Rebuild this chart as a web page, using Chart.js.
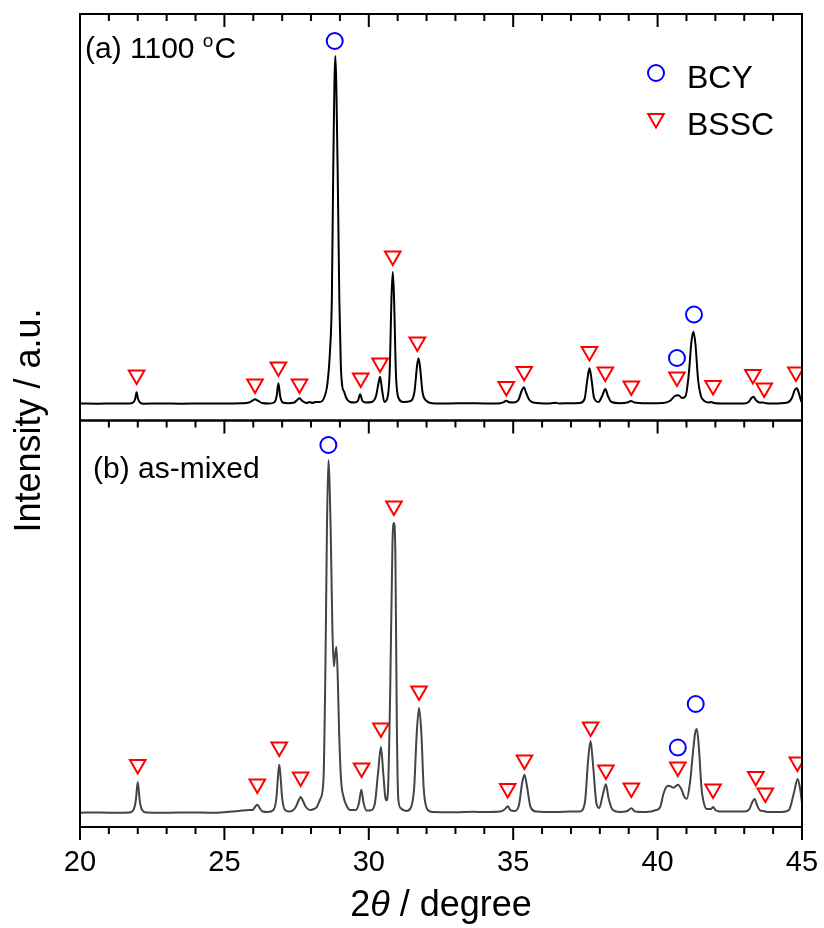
<!DOCTYPE html>
<html>
<head>
<meta charset="utf-8">
<script src="https://cdn.jsdelivr.net/npm/chart.js@4.4.1/dist/chart.umd.min.js"></script>
<style>
  html, body { margin: 0; padding: 0; background: #fff; }
  canvas { display: block; }
</style>
</head>
<body>
<canvas id="xrd" width="824" height="928"></canvas>
<script>
// (a) 1100 oC pattern
const twoThetaA = [
  20.00, 20.60, 21.20, 21.70, 21.84, 21.91, 21.96, 22.01, 22.08, 22.20, 22.80, 23.50, 24.30, 25.00,
  25.60, 25.85, 25.98, 26.06, 26.15, 26.30, 26.55, 26.72, 26.81, 26.87, 26.93, 27.02, 27.20,
  27.42, 27.52, 27.60, 27.70, 27.85, 27.95, 28.05, 28.15, 28.30, 28.45, 28.57, 28.66, 28.72,
  28.77, 28.84, 28.92, 28.98, 29.03, 29.08, 29.15, 29.22, 29.35, 29.50, 29.62, 29.70, 29.78,
  29.90, 30.10, 30.25, 30.33, 30.39, 30.46, 30.54, 30.62, 30.72, 30.79, 30.83, 30.87, 30.94,
  31.03, 31.20, 31.45, 31.58, 31.67, 31.72, 31.77, 31.86, 32.00, 32.20, 32.80, 33.40, 34.00,
  34.55, 34.68, 34.76, 34.84, 35.00, 35.18, 35.29, 35.37, 35.45, 35.56, 35.75, 36.20, 36.45,
  36.60, 37.00, 37.30, 37.47, 37.57, 37.64, 37.71, 37.80, 37.95, 38.08, 38.19, 38.28, 38.40,
  38.70, 38.95, 39.08, 39.20, 39.60, 40.20, 40.42, 40.60, 40.72, 40.85, 40.97, 41.08, 41.17,
  41.24, 41.31, 41.40, 41.50, 41.62, 41.78, 41.85, 41.95, 42.20, 43.00, 43.15, 43.25, 43.32,
  43.40, 43.52, 43.65, 43.75, 44.00, 44.50, 44.65, 44.75, 44.82, 44.90, 44.97, 45.00
];
const intensityA = [
  0.5, 0.3, 0.6, 0.5, 1.5, 5, 11.7, 5, 1.5, 0.3, 0.6, 0.3, 0.5, 0.4,
  0.8, 1.5, 3.5, 4.7, 3.5, 1, 0.5, 1.5, 8, 20.7, 8, 1.5, 0.8,
  1.5, 4, 5.7, 3, 1, 2, 1, 2, 2, 6, 21, 55, 104,
  237, 348, 237, 104, 40, 18, 12, 6, 2, 1.5, 3, 9.7, 3,
  1.5, 2, 8, 20, 27.3, 14, 2, 4, 30, 110, 132, 110, 30,
  6, 2, 3, 12, 38, 45.7, 38, 12, 3, 0.8, 0.5, 0.8, 0.5,
  0.8, 2, 3.3, 2, 1.5, 4, 13, 16.7, 11, 4, 1.2, 0.5, 1.2,
  0.5, 0.8, 1, 5, 25, 35.7, 25, 6, 2, 8, 15, 8, 2,
  0.8, 1.5, 3, 1.5, 0.8, 1, 3, 8, 8.7, 6, 8, 30, 62,
  72.3, 60, 25, 8, 3, 1.5, 2, 1, 0.5, 0.5, 2, 6, 7.3,
  4, 1.5, 1.5, 0.8, 0.5, 1.5, 6, 14, 15.7, 10, 3, 1.5
];

// (b) as-mixed pattern
const twoThetaB = [
  20.00, 20.70, 21.30, 21.70, 21.85, 21.93, 22.00, 22.07, 22.15, 22.30, 23.00, 23.80, 24.50,
  25.00, 25.50, 25.85, 25.98, 26.06, 26.14, 26.22, 26.32, 26.50, 26.70, 26.80, 26.86, 26.90,
  26.94, 27.00, 27.10, 27.25, 27.45, 27.56, 27.64, 27.72, 27.82, 27.97, 28.10, 28.20, 28.32,
  28.43, 28.50, 28.55, 28.60, 28.68, 28.74, 28.79, 28.84, 28.88, 28.93, 28.97, 29.04, 29.12,
  29.22, 29.35, 29.55, 29.66, 29.74, 29.82, 29.92, 30.05, 30.20, 30.32, 30.42, 30.50, 30.57,
  30.61, 30.66, 30.74, 30.82, 30.87, 30.92, 30.97, 31.02, 31.10, 31.30, 31.45, 31.57, 31.66,
  31.74, 31.82, 31.90, 32.02, 32.20, 33.00, 33.60, 34.00, 34.55, 34.72, 34.81, 34.90, 35.05,
  35.20, 35.31, 35.39, 35.47, 35.60, 35.80, 36.50, 37.00, 37.30, 37.48, 37.60, 37.68, 37.76,
  37.88, 37.98, 38.10, 38.21, 38.30, 38.45, 38.70, 38.95, 39.09, 39.22, 39.60, 39.95, 40.09,
  40.20, 40.30, 40.38, 40.55, 40.70, 40.82, 40.93, 41.01, 41.12, 41.24, 41.30, 41.36, 41.43,
  41.52, 41.58, 41.70, 41.85, 41.92, 42.00, 42.15, 43.00, 43.18, 43.28, 43.36, 43.44, 43.55,
  43.67, 43.80, 44.30, 44.55, 44.72, 44.85, 44.93, 45.00
];
const intensityB = [
  0.3, 0.5, 0.2, 0.5, 3, 12, 31, 12, 3, 0.5, 0.3, 0.6, 0.3,
  0.8, 2, 3, 3, 6, 8.3, 5, 1.5, 1, 3, 15, 38, 48.3,
  38, 15, 3, 1.5, 5, 12, 16, 12, 6, 3, 4, 6, 14,
  33, 150, 283, 352.7, 283, 183, 146.7, 160, 166, 130, 83, 33, 16.7,
  8, 3, 3, 10, 23.3, 10, 2.5, 2.5, 8, 40, 66, 40, 16,
  12.7, 20, 120, 270, 290, 260, 90, 15, 5, 2, 5, 25, 80,
  105.3, 80, 25, 4, 1, 0.8, 1.2, 1, 1.5, 4, 6.7, 3, 2,
  8, 30, 38.3, 28, 6, 1.5, 1, 1.5, 1.5, 10, 55, 72, 50,
  10, 5, 18, 28.7, 15, 3, 1, 2, 4.7, 1.5, 1, 3, 6,
  19, 26, 27.3, 25.3, 28.3, 24, 16, 14.3, 30, 65, 80, 84, 65,
  25, 12.7, 4, 4, 6, 3, 1.5, 1.5, 4, 11, 14, 8, 2.5,
  2, 1, 1, 3, 20, 34, 25, 10
];

// phase markers: position and height of each symbol
const bcyThetaA = [28.82, 40.67, 41.26];
const bcyLevelA = [363, 46, 89.5];
const bsscThetaA = [21.96, 26.06, 26.87, 27.60, 29.72, 30.39, 30.83, 31.68, 34.76, 35.38,
  37.64, 38.19, 39.09, 40.67, 41.92, 43.30, 43.69, 44.79];
const bsscLevelA = [29, 20, 37, 20, 26, 41, 148, 62, 17.5, 32.5,
  52.5, 32, 18, 27, 18.5, 29.5, 16, 32];

const bcyThetaB = [28.60, 40.70, 41.32];
const bcyLevelB = [368, 65.5, 109];
const bsscThetaB = [22.00, 26.14, 26.90, 27.64, 29.75, 30.42, 30.87, 31.74, 34.81, 35.39,
  37.68, 38.21, 39.09, 40.70, 41.92, 43.40, 43.73, 44.84];
const bsscLevelB = [48.5, 29, 66, 36, 45, 85, 307, 122, 24.5, 53,
  86, 43, 25, 46, 24, 36.5, 20, 51];

const axisTicks = [20, 21, 22, 23, 24, 25, 26, 27, 28, 29, 30, 31, 32, 33, 34, 35, 36, 37, 38,
  39, 40, 41, 42, 43, 44, 45];

const FONT = '"Liberation Sans", Arial, Helvetica, sans-serif';

const pts = (xs, ys) => xs.map((x, i) => ({x: x, y: ys[i]}));

function trace(xs, ys, axis, colour) {
  return {
    data: pts(xs, ys),
    yAxisID: axis,
    borderColor: colour,
    borderWidth: 2,
    pointRadius: 0,
    cubicInterpolationMode: "monotone",
    fill: false,
  };
}

function markers(xs, ys, axis, style, colour, r) {
  return {
    data: pts(xs, ys),
    yAxisID: axis,
    showLine: false,
    pointStyle: style,
    pointRotation: style === "triangle" ? 180 : 0,
    pointRadius: r,
    pointBorderWidth: 2,
    borderColor: colour,
    pointBorderColor: colour,
    pointBackgroundColor: "rgba(0,0,0,0)",
  };
}

const decor = {
  id: "decor",
  afterDraw(chart) {
    const {ctx, chartArea, scales} = chart;
    const x = scales.x, yTop = scales.yTop, yBot = scales.yBot;
    const l = chartArea.left, r = chartArea.right;
    ctx.save();

    // panel frames and ticks
    ctx.strokeStyle = "#000";
    ctx.lineWidth = 2;
    ctx.strokeRect(l, yTop.top, r - l, yTop.bottom - yTop.top);
    ctx.strokeRect(l, yBot.top, r - l, yBot.bottom - yBot.top);
    ctx.beginPath();
    const edges = [yTop.top, yTop.bottom, yBot.bottom];
    axisTicks.forEach((v) => {
      const px = x.getPixelForValue(v);
      const len = v % 5 === 0 ? 13 : 7;
      edges.forEach((e) => { ctx.moveTo(px, e); ctx.lineTo(px, e + len); });
    });
    ctx.stroke();

    ctx.fillStyle = "#000";
    ctx.textBaseline = "alphabetic";
    ctx.textAlign = "left";

    // panel labels
    ctx.font = "30px " + FONT;
    let s = "(a) 1100 ";
    ctx.fillText(s, 85, 58);
    let w = ctx.measureText(s).width;
    ctx.font = "19px " + FONT;
    ctx.fillText("o", 85 + w, 47);
    w += ctx.measureText("o").width + 1;
    ctx.font = "30px " + FONT;
    ctx.fillText("C", 85 + w, 58);
    ctx.fillText("(b) as-mixed", 93, 478);

    // legend
    const helpers = Chart.helpers;
    ctx.lineWidth = 2;
    ctx.fillStyle = "rgba(0,0,0,0)";
    ctx.strokeStyle = "#0000ff";
    helpers.drawPoint(ctx, {pointStyle: "circle", radius: 8, rotation: 0, borderWidth: 2}, 656, 73);
    ctx.strokeStyle = "#ff0000";
    helpers.drawPoint(ctx, {pointStyle: "triangle", radius: 9, rotation: 180, borderWidth: 2}, 656, 118.5);
    ctx.fillStyle = "#000";
    ctx.font = "32px " + FONT;
    ctx.fillText("BCY", 687, 88);
    ctx.fillText("BSSC", 687, 135);

    // x title with italic theta
    const parts = [["2", ""], ["\u03B8", "italic "], [" / degree", ""]];
    let total = 0;
    parts.forEach((p) => { ctx.font = p[1] + "36px " + FONT; total += ctx.measureText(p[0]).width; });
    let cx = (l + r) / 2 - total / 2;
    parts.forEach((p) => {
      ctx.font = p[1] + "36px " + FONT;
      ctx.fillText(p[0], cx, 916);
      cx += ctx.measureText(p[0]).width;
    });

    // y title
    ctx.save();
    ctx.translate(40, (yTop.top + yBot.bottom) / 2);
    ctx.rotate(-Math.PI / 2);
    ctx.textAlign = "center";
    ctx.font = "36px " + FONT;
    ctx.fillText("Intensity / a.u.", 0, 0);
    ctx.restore();

    ctx.restore();
  },
};

const hiddenY = {
  type: "linear",
  position: "left",
  stack: "panels",
  stackWeight: 1,
  grid: {display: false, drawTicks: false},
  border: {display: false},
  ticks: {display: false},
};

new Chart(document.getElementById("xrd").getContext("2d"), {
  type: "line",
  data: {
    datasets: [
      trace(twoThetaA, intensityA, "yTop", "#000000"),
      trace(twoThetaB, intensityB, "yBot", "#444444"),
      markers(bcyThetaA, bcyLevelA, "yTop", "circle", "#0000ff", 8),
      markers(bsscThetaA, bsscLevelA, "yTop", "triangle", "#ff0000", 9),
      markers(bcyThetaB, bcyLevelB, "yBot", "circle", "#0000ff", 8),
      markers(bsscThetaB, bsscLevelB, "yBot", "triangle", "#ff0000", 9),
    ],
  },
  options: {
    responsive: false,
    animation: false,
    devicePixelRatio: 1,
    events: [],
    layout: {padding: {left: 80, right: 22, top: 14, bottom: 0}},
    plugins: {legend: {display: false}, tooltip: {enabled: false}},
    scales: {
      x: {
        type: "linear",
        min: 20,
        max: 45,
        afterFit(scale) { scale.height = 101; },
        grid: {display: false, drawTicks: false},
        border: {display: false},
        ticks: {
          stepSize: 5,
          padding: 0,
          color: "#000",
          maxRotation: 0,
          autoSkip: false,
          // tall line box pushes the label centre ~36px below the frame
          font: {family: FONT, size: 29, lineHeight: 2.48},
        },
      },
      yTop: Object.assign({}, hiddenY, {weight: 1, min: -16.5, max: 390}),
      yBot: Object.assign({}, hiddenY, {weight: 0, min: -14, max: 392.5}),
    },
  },
  plugins: [decor],
});
</script>
</body>
</html>
